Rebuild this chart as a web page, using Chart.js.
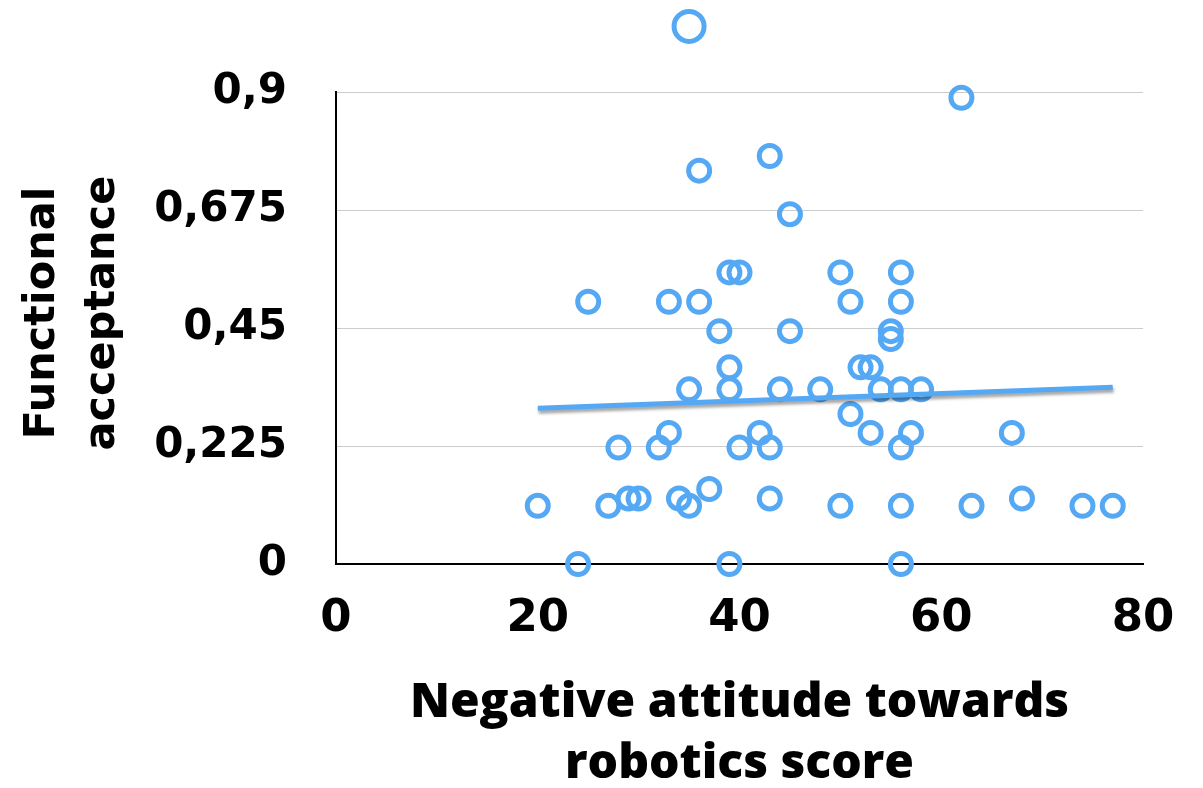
<!DOCTYPE html>
<html lang="en">
<head>
    <meta charset="UTF-8">
    <title>Functional acceptance vs negative attitude</title>
    <script src="https://cdn.jsdelivr.net/npm/chart.js"></script>
    <style>
        body {
            margin: 0;
            background: #ffffff;
        }
        #wrap {
            width: 1203px;
            height: 788px;
        }
    </style>
</head>
<body>
    <div id="wrap"><canvas id="scatter" width="1203" height="788"></canvas></div>

    <script>
        // values
        const attitude = [35, 62, 43, 36, 45, 39, 40, 50, 56, 25, 33, 36, 51, 56, 38, 45, 55, 55,
            39, 52, 53, 35, 39, 44, 48, 54, 56, 58, 51, 33, 42, 53, 57, 67, 28, 32, 40, 43, 56,
            37, 29, 30, 34, 43, 68, 20, 27, 35, 50, 56, 63, 74, 77, 24, 39, 56];
        const acceptance = [1.025, 0.889, 0.778, 0.75, 0.667, 0.556, 0.556, 0.556, 0.556,
            0.5, 0.5, 0.5, 0.5, 0.5, 0.444, 0.444, 0.444, 0.429,
            0.375, 0.375, 0.375, 0.333, 0.333, 0.333, 0.333, 0.333, 0.333, 0.333, 0.286,
            0.25, 0.25, 0.25, 0.25, 0.25, 0.222, 0.222, 0.222, 0.222, 0.222,
            0.143, 0.125, 0.125, 0.125, 0.125, 0.125, 0.111, 0.111, 0.111, 0.111, 0.111,
            0.111, 0.111, 0.111, 0, 0, 0];
        const trendX = [20, 77];
        const trendY = [0.297, 0.337];
        const xTicks = [0, 20, 40, 60, 80];
        const yTicks = [0, 0.225, 0.45, 0.675, 0.9];

        const blue = '#55a8f3';

        const points = attitude.map((x, i) => ({ x: x, y: acceptance[i] }));
        const trend = trendX.map((x, i) => ({ x: x, y: trendY[i] }));

        // soft shadow under the trend line
        const lineShadow = {
            id: 'lineShadow',
            beforeDatasetDraw(chart, args) {
                if (args.index !== 0) return;
                const c = chart.ctx;
                c.save();
                c.shadowColor = 'rgba(0,0,0,0.35)';
                c.shadowBlur = 3;
                c.shadowOffsetX = 1;
                c.shadowOffsetY = 3;
            },
            afterDatasetDraw(chart, args) {
                if (args.index !== 0) return;
                chart.ctx.restore();
            }
        };

        // the scatter has one point above 0,9: let it be drawn above the plot area
        let savedTop = null;
        const overflowTop = {
            id: 'overflowTop',
            beforeDatasetDraw(chart, args) {
                if (args.index !== 1) return;
                savedTop = chart.chartArea.top;
                chart.chartArea.top = 0;
            },
            afterDatasetDraw(chart, args) {
                if (args.index !== 1) return;
                chart.chartArea.top = savedTop;
            }
        };

        new Chart(document.getElementById('scatter'), {
            type: 'scatter',
            data: {
                datasets: [{
                    type: 'line',
                    data: trend,
                    borderColor: blue,
                    borderWidth: 5,
                    pointRadius: 0,
                    fill: false
                }, {
                    data: points,
                    backgroundColor: 'rgba(0,0,0,0)',
                    borderColor: blue,
                    borderWidth: 5,
                    pointRadius: ctx => (ctx.raw && ctx.raw.y > 0.95 ? 15 : 10.5),
                    clip: false
                }]
            },
            options: {
                responsive: false,
                animation: false,
                layout: { padding: { top: 92, right: 60, left: 0, bottom: 0 } },
                plugins: {
                    legend: { display: false },
                    tooltip: { enabled: false }
                },
                scales: {
                    x: {
                        type: 'linear',
                        min: 0,
                        max: 80,
                        afterBuildTicks: s => { s.ticks = xTicks.map(v => ({ value: v })); },
                        afterFit: s => { s.height = 224; },
                        grid: { display: false, drawTicks: false },
                        border: { color: '#000', width: 2 },
                        ticks: {
                            padding: 28,
                            color: '#000',
                            font: { family: 'DejaVu Sans', weight: 'bold', size: 45 }
                        },
                        title: {
                            display: true,
                            text: ['Negative attitude towards', 'robotics score'],
                            color: '#000',
                            padding: { top: 0, bottom: -7 },
                            font: { family: 'Open Sans', weight: 800, size: 48, lineHeight: 1.27 }
                        }
                    },
                    y: {
                        type: 'linear',
                        min: 0,
                        max: 0.9,
                        afterBuildTicks: s => { s.ticks = yTicks.map(v => ({ value: v })); },
                        afterFit: s => { s.width = 336; },
                        grid: { color: '#cccccc', lineWidth: 1, drawTicks: false },
                        border: { color: '#000', width: 2 },
                        ticks: {
                            padding: 49,
                            color: '#000',
                            font: { family: 'DejaVu Sans', weight: 'bold', size: 42 },
                            callback: v => String(v).replace('.', ',')
                        },
                        title: {
                            display: true,
                            // leading spaces nudge the rotated title up a little
                            text: ['  Functional', '  acceptance'],
                            color: '#000',
                            padding: { top: 13, bottom: 0 },
                            font: { family: 'DejaVu Sans', weight: 'bold', size: 43, lineHeight: 1.4 }
                        }
                    }
                }
            },
            plugins: [lineShadow, overflowTop]
        });
    </script>
</body>
</html>
